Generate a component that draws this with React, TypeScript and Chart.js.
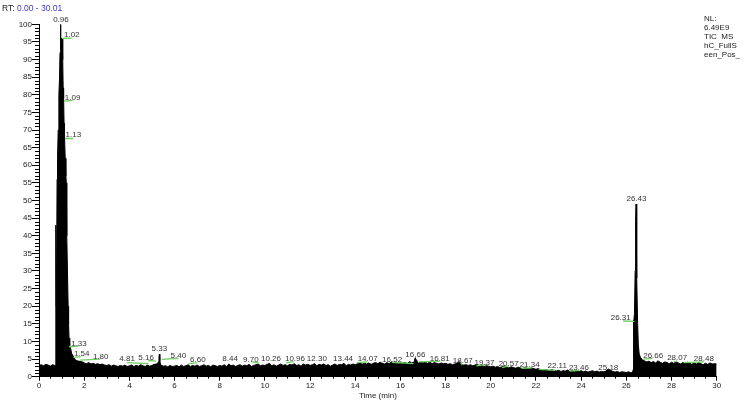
import React, { useEffect, useRef } from "react";
import { Chart, registerables } from "chart.js";

Chart.register(...registerables);

// Baseline signal sampled every 0.1 min, 0.0 .. 30.0 (relative abundance %)
const baselineStep = 0.1;
const baselineValues: number[] = [
  3.2, 3.4, 3.1, 3.5, 3.3, 3.0, 3.4, 3.2, 3.0, 3.3,
  3.5, 3.6, 3.5, 3.7, 4.0, 4.2, 4.3, 4.0, 4.4, 4.1,
  3.9, 3.7, 4.0, 3.6, 3.8, 3.5, 3.7, 3.4, 3.6, 3.3,
  3.2, 3.4, 3.0, 3.3, 3.1, 2.9, 3.2, 3.0, 3.3, 2.9,
  3.1, 3.3, 2.9, 3.2, 3.0, 3.4, 3.1, 2.9, 3.3, 3.0,
  3.2, 3.5, 3.6, 4.2, 3.3, 3.0, 3.1, 2.8, 3.2, 2.9,
  3.0, 3.2, 2.8, 3.3, 2.9, 3.1, 3.4, 2.9, 3.2, 3.0,
  3.3, 2.9, 3.1, 3.4, 3.0, 3.2, 2.8, 3.3, 3.1, 2.9,
  3.2, 3.0, 3.4, 2.9, 3.6, 3.1, 3.3, 2.9, 3.2, 3.4,
  3.0, 3.3, 3.1, 3.5, 2.9, 3.2, 3.4, 3.6, 3.1, 3.3,
  3.2, 3.5, 3.8, 3.1, 3.4, 3.0, 3.3, 3.6, 3.2, 3.4,
  3.1, 3.5, 3.3, 3.7, 3.2, 3.4, 3.0, 3.6, 3.3, 3.5,
  3.2, 3.4, 3.7, 3.1, 3.5, 3.3, 3.6, 3.2, 3.4, 3.0,
  3.3, 3.6, 3.2, 3.5, 3.4, 3.8, 3.1, 3.5, 3.3, 3.6,
  3.4, 3.7, 4.0, 3.5, 3.8, 3.6, 3.9, 3.5, 3.8, 4.0,
  3.7, 4.1, 3.8, 3.6, 4.0, 3.7, 4.2, 3.8, 3.9, 3.6,
  4.0, 3.8, 4.1, 3.7, 4.3, 3.9, 4.1, 4.5, 3.9, 4.2,
  3.9, 4.1, 3.8, 4.2, 3.7, 4.0, 3.8, 3.6, 3.9, 3.7,
  3.8, 3.5, 3.7, 3.4, 3.6, 3.8, 4.3, 3.5, 3.3, 3.4,
  3.2, 3.4, 3.1, 3.3, 3.5, 3.0, 3.2, 2.9, 3.1, 3.0,
  2.8, 3.0, 2.7, 2.9, 2.6, 2.8, 3.1, 2.7, 2.5, 2.8,
  2.6, 2.4, 2.7, 2.5, 2.3, 2.6, 2.4, 2.2, 2.5, 2.3,
  2.1, 2.3, 2.0, 1.8, 2.1, 1.9, 1.7, 2.0, 1.8, 1.6,
  1.8, 1.5, 1.7, 1.6, 1.9, 1.5, 1.7, 1.4, 1.6, 1.5,
  1.7, 1.4, 1.6, 1.3, 1.5, 1.7, 1.4, 1.6, 1.3, 1.5,
  1.4, 1.6, 2.2, 1.8, 1.5, 1.3, 1.5, 1.2, 1.4, 1.3,
  1.2, 1.4, 1.1, 1.3, 4.0, 5.0, 4.6, 4.8, 4.5, 4.2,
  4.4, 4.0, 4.3, 3.9, 4.5, 4.1, 3.8, 4.2, 4.0, 3.7,
  4.1, 3.8, 4.2, 3.9, 3.6, 4.0, 3.7, 4.1, 3.8, 3.5,
  3.9, 3.6, 4.0, 3.7, 3.4, 3.8, 3.5, 3.9, 3.6, 3.7,
  3.6,
];

// Main peak (RT 0.96)
const mainPeakTimes = [0.7, 0.73, 0.74, 0.75, 0.76, 0.78, 0.8, 0.82, 0.85, 0.88, 0.91, 0.93, 0.95, 0.96, 0.97, 0.99, 1.02, 1.05, 1.07, 1.09, 1.11, 1.13, 1.16, 1.19, 1.21, 1.23, 1.26, 1.29, 1.31, 1.33, 1.36, 1.4, 1.45, 1.5, 1.54, 1.6, 1.7, 1.8, 1.9, 2.0];
const mainPeakValues = [3.0, 2.8, 38, 43, 20, 30, 56, 62, 70, 80, 85, 92, 96, 100, 93, 96, 96, 90, 82, 79, 72, 68, 62, 57, 55, 40, 30, 20, 15, 11, 9, 8, 6.5, 6, 5.5, 4.8, 4.5, 4.3, 4.2, 4.0];

// Small peaks
const peak533Times = [5.26, 5.29, 5.31, 5.33, 5.35, 5.38, 5.41];
const peak533Values = [3.3, 4.0, 5.5, 6.4, 4.5, 3.4, 3.1];
const peak1666Times = [16.58, 16.61, 16.63, 16.66, 16.69, 16.72, 16.75];
const peak1666Values = [3.9, 4.4, 5.0, 5.4, 4.8, 4.2, 4.0];

// Late peak (RT 26.43)
const latePeakTimes = [26.28, 26.3, 26.31, 26.33, 26.36, 26.39, 26.41, 26.43, 26.45, 26.47, 26.5, 26.53, 26.57, 26.62, 26.7];
const latePeakValues = [1.3, 2.0, 16, 15, 18, 30, 44, 49, 42, 28, 15, 9, 6.5, 5.5, 5.0];

// Peak annotations
const peakLabels = ["0.96", "1.02", "1.09", "1.13", "1.33", "1.54", "1.80", "4.81", "5.16", "5.33", "5.40", "6.60", "8.44", "9.70", "10.26", "10.96", "12.30", "13.44", "14.07", "16.52", "16.66", "16.81", "18.67", "19.37", "20.57", "21.34", "22.11", "23.46", "25.18", "26.31", "26.43", "26.66", "28.07", "28.48"];
const labelTimes = [0.97, 1.45, 1.49, 1.52, 1.77, 1.89, 2.73, 3.9, 4.74, 5.33, 6.17, 7.03, 8.46, 9.38, 10.27, 11.33, 12.3, 13.46, 14.55, 15.63, 16.66, 17.74, 18.76, 19.72, 20.79, 21.72, 22.94, 23.9, 25.2, 25.75, 26.45, 27.19, 28.25, 29.43];
const labelLevels = [101.3, 97.1, 79.2, 68.6, 9.4, 6.4, 5.6, 5.0, 5.4, 8.0, 6.0, 4.7, 5.0, 4.9, 5.0, 5.0, 5.0, 5.0, 5.0, 4.8, 6.2, 5.0, 4.5, 4.0, 3.7, 3.4, 3.2, 2.5, 2.5, 16.8, 50.5, 6.0, 5.3, 5.0];

// Integration baselines (green)
const baseStartTimes = [1.02, 1.11, 1.15, 1.33, 1.52, 1.82, 3.89, 4.84, 5.44, 6.62, 9.42, 10.94, 14.08, 15.63, 16.81, 18.65, 19.36, 20.5, 21.36, 22.12, 23.5, 25.86, 26.75, 28.1, 28.55];
const baseStartLevels = [96.0, 78.2, 67.6, 8.5, 5.4, 4.7, 4.0, 4.6, 4.9, 3.7, 4.2, 3.9, 4.0, 4.1, 4.2, 4.2, 3.1, 2.6, 2.4, 2.1, 1.6, 15.8, 5.0, 4.2, 4.0];
const baseEndTimes = [1.45, 1.49, 1.52, 1.74, 1.85, 2.7, 4.84, 5.18, 6.17, 7.01, 9.72, 11.27, 14.52, 16.58, 17.74, 18.74, 19.81, 20.79, 21.83, 22.86, 23.89, 26.36, 27.15, 28.25, 29.43];
const baseEndLevels = [96.1, 78.4, 67.6, 8.7, 5.7, 5.0, 3.7, 4.4, 5.2, 3.9, 3.9, 4.3, 4.2, 3.7, 4.4, 3.3, 3.5, 3.1, 2.5, 1.8, 1.8, 15.7, 5.2, 4.4, 4.2];

// Info text
const rangeText = "0.00 - 30.01";
const infoLines = ["NL:", "6.49E9", "TIC  MS", "hC_FullS", "een_Pos_"];

const FONT = '"Liberation Sans", Arial, Helvetica, sans-serif';

function series(times: number[], values: number[]) {
  return times.map((t, i) => ({ x: t, y: values[i] }));
}

const decorPlugin = {
  id: "decor",
  afterDraw(chart: any) {
    const { ctx, scales } = chart;
    const x = scales.x;
    const y = scales.y;
    ctx.save();
    // minor ticks
    ctx.strokeStyle = "#000";
    ctx.lineWidth = 1;
    ctx.beginPath();
    for (let v = 0; v <= 100; v++) {
      if (v % 5 === 0) continue;
      const py = Math.round(y.getPixelForValue(v)) + 0.5;
      ctx.moveTo(y.right - 4, py);
      ctx.lineTo(y.right, py);
    }
    for (let k = 0; k <= 60; k++) {
      const t = k * 0.5;
      if (t % 2 === 0) continue;
      const px = Math.round(x.getPixelForValue(t)) + 0.5;
      ctx.moveTo(px, x.top);
      ctx.lineTo(px, x.top + 2);
    }
    ctx.stroke();

    // green integration baselines
    ctx.strokeStyle = "#6ccf5f";
    ctx.lineWidth = 1.3;
    ctx.beginPath();
    for (let i = 0; i < baseStartTimes.length; i++) {
      ctx.moveTo(x.getPixelForValue(baseStartTimes[i]), y.getPixelForValue(baseStartLevels[i]));
      ctx.lineTo(x.getPixelForValue(baseEndTimes[i]), y.getPixelForValue(baseEndLevels[i]));
    }
    ctx.stroke();

    // peak labels
    ctx.font = `8px ${FONT}`;
    ctx.fillStyle = "#333";
    ctx.textAlign = "center";
    ctx.textBaseline = "middle";
    for (let i = 0; i < peakLabels.length; i++) {
      ctx.fillText(peakLabels[i], x.getPixelForValue(labelTimes[i]), y.getPixelForValue(labelLevels[i]));
    }

    // header
    ctx.textAlign = "left";
    ctx.font = `8.5px ${FONT}`;
    ctx.fillStyle = "#222";
    const rtX = 2;
    const rtY = 9;
    ctx.fillText("RT:", rtX, rtY);
    const w = ctx.measureText("RT: ").width;
    ctx.fillStyle = "#3b3bc4";
    ctx.fillText(rangeText, rtX + w, rtY);

    ctx.fillStyle = "#222";
    ctx.font = `8px ${FONT}`;
    infoLines.forEach((s, i) => {
      ctx.fillText(s, 704, 19 + i * 9);
    });
    ctx.restore();
  },
};

export default function App() {
  const ref = useRef<HTMLCanvasElement | null>(null);
  useEffect(() => {
    if (!ref.current) return;
    const fillStyle = {
      type: "line" as const,
      borderColor: "#000",
      backgroundColor: "#000",
      borderWidth: 1,
      pointRadius: 0,
      fill: "origin",
      tension: 0,
    };
    const chart = new Chart(ref.current, {
      type: "line",
      data: {
        datasets: [
          { ...fillStyle, data: baselineValues.map((v, i) => ({ x: Math.round(i * baselineStep * 100) / 100, y: v })) },
          { ...fillStyle, data: series(mainPeakTimes, mainPeakValues) },
          { ...fillStyle, data: series(peak533Times, peak533Values) },
          { ...fillStyle, data: series(peak1666Times, peak1666Values) },
          { ...fillStyle, data: series(latePeakTimes, latePeakValues) },
        ] as any,
      },
      options: {
        animation: false,
        responsive: false,
        devicePixelRatio: 1,
        layout: { padding: { top: 24.3, right: 31.3, left: 0, bottom: 0 } },
        plugins: { legend: { display: false }, tooltip: { enabled: false } },
        scales: {
          x: {
            type: "linear",
            min: 0,
            max: 30,
            afterFit: (s: any) => {
              s.height = 24.3;
            },
            ticks: { stepSize: 2, padding: 0, color: "#222", font: { size: 8, family: FONT } },
            grid: { drawOnChartArea: false, drawTicks: true, tickLength: 4, color: "#000" },
            border: { color: "#000", width: 1 },
            title: { display: true, text: "Time (min)", color: "#222", font: { size: 8, family: FONT }, padding: 0 },
          },
          y: {
            type: "linear",
            min: 0,
            max: 100,
            afterFit: (s: any) => {
              s.width = 39;
            },
            ticks: { stepSize: 5, padding: 0, color: "#222", font: { size: 8, family: FONT } },
            grid: { drawOnChartArea: false, drawTicks: true, tickLength: 7, color: "#000" },
            border: { color: "#000", width: 1 },
          },
        },
      } as any,
      plugins: [decorPlugin],
    });
    return () => chart.destroy();
  }, []);
  return (
    <div style={{ position: "absolute", left: 0, top: 0, width: 748, height: 401, background: "#fff" }}>
      <canvas ref={ref} width={748} height={401} style={{ display: "block" }} />
    </div>
  );
}
